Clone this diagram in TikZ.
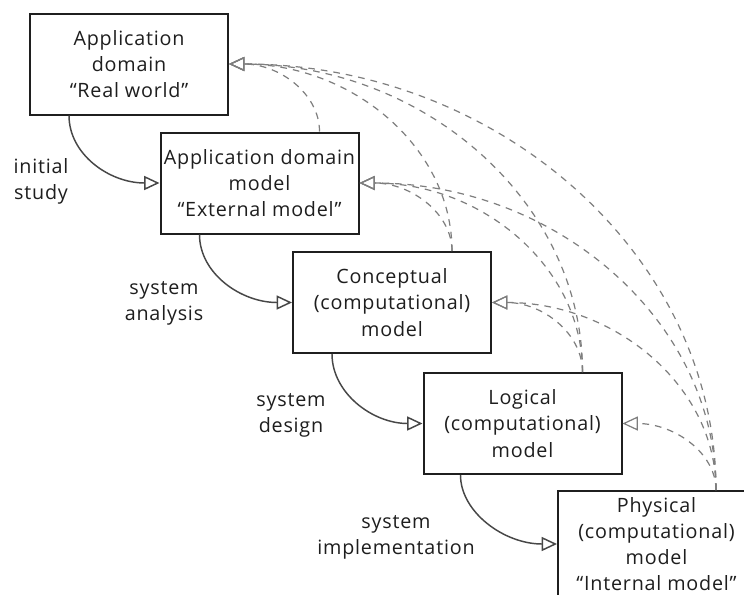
\documentclass[tikz,border=0pt]{standalone}
\usepackage{fontspec}
\setmainfont{Open Sans}[LetterSpace=4]
\usetikzlibrary{arrows.meta,calc}
\definecolor{txt}{HTML}{1E1E1E}
\definecolor{dash}{HTML}{7E7E7E}
\tikzset{
  model/.style={draw=black!88, line width=1.5pt, minimum width=148.5pt, minimum height=75.75pt,
    align=center, inner sep=0pt, text=txt, font=\fontsize{14.8}{19.6}\selectfont},
  lbl/.style={align=center, inner sep=0pt, text=txt, font=\fontsize{14.8}{19.6}\selectfont},
  flow/.style={draw=black!72, line width=1.1pt, -{Triangle[open, length=11.5pt, width=10.5pt, line width=1.1pt]}},
  trace/.style={draw=dash, line width=0.9pt, dash pattern=on 5pt off 4.5pt,
    -{Triangle[open, length=11.5pt, width=10.5pt, line width=0.9pt]}}
}
\begin{document}
\begin{tikzpicture}[x=0.75pt,y=-0.75pt]
\useasboundingbox (0,0) rectangle (744,594);
\clip (0,0) rectangle (744,594);
\fill[white] (0,0) rectangle (744,594);
% boxes
\node[model] (b1) at (129,64) {Application\\domain\\``Real world''};
\node[model] (b2) at (259.5,183) {Application domain\\model\\``External model''};
\node[model] (b3) at (392,302.5) {Conceptual\\(computational)\\model};
\node[model] (b4) at (522.5,423.5) {Logical\\(computational)\\model};
\node[model, minimum height=79.5pt, minimum width=147.75pt] (b5) at (656.5,544) {Physical\\(computational)\\model\\``Internal model''};
% labels
\node[lbl] (l1) at (41,181) {initial\\study};
\node[lbl] (l2) at (164,303) {system\\analysis};
\node[lbl] (l3) at (291,415) {system\\design};
\node[lbl] (l4) at (396,537) {system\\implementation};
% connector anchors
\coordinate (d1) at ($(b1.south west)+(40,0)$);
\coordinate (d2) at ($(b2.south west)+(40,0)$);
\coordinate (d3) at ($(b3.south west)+(40,0)$);
\coordinate (d4) at ($(b4.south west)+(38,0)$);
\coordinate (s2) at ($(b2.north east)+(-40,0)$);
\coordinate (s3) at ($(b3.north east)+(-40,0)$);
\coordinate (s4) at ($(b4.north east)+(-40,0)$);
\coordinate (s5) at ($(b5.north east)+(-40,0)$);
% solid development arrows
\draw[flow] (d1) .. controls +(0,39) and +(-50,0) .. (b2.west);
\draw[flow] (d2) .. controls +(0,39) and +(-51,0) .. (b3.west);
\draw[flow] (d3) .. controls +(0,39) and +(-50,0) .. (b4.west);
\draw[flow] (d4) .. controls +(0,37) and +(-53,0) .. (b5.west);
% dashed trace arrows
\draw[trace] (s2) .. controls +(0,-38) and +(50,0) .. (b1.east);
\draw[trace] (s3) .. controls +(0,-104) and +(123,0) .. (b1.east);
\draw[trace] (s4) .. controls +(0,-171) and +(195,0) .. (b1.east);
\draw[trace] (s5) .. controls +(0,-236) and +(268,0) .. (b1.east);
\draw[trace] (s3) .. controls +(0,-38) and +(51,0) .. (b2.east);
\draw[trace] (s4) .. controls +(0,-105) and +(123,0) .. (b2.east);
\draw[trace] (s5) .. controls +(0,-170) and +(196,0) .. (b2.east);
\draw[trace] (s4) .. controls +(0,-39) and +(50,0) .. (b3.east);
\draw[trace] (s5) .. controls +(0,-104) and +(123,0) .. (b3.east);
\draw[trace] (s5) .. controls +(0,-37) and +(52,0) .. (b4.east);
\end{tikzpicture}
\end{document}
